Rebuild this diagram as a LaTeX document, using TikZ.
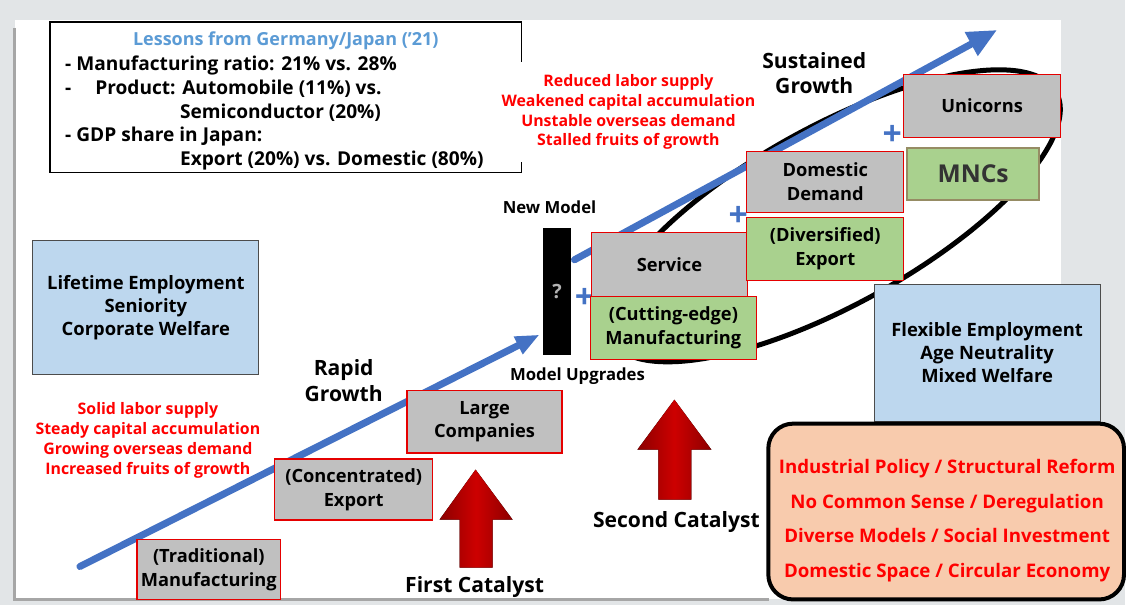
\documentclass[tikz,border=0pt]{standalone}
\usepackage{fontspec}
\setmainfont{Open Sans}
\usetikzlibrary{arrows.meta,positioning,calc}
\definecolor{growthblue}{RGB}{68,114,196}
\definecolor{titleblue}{RGB}{91,155,213}
\definecolor{stagegray}{RGB}{192,192,192}
\definecolor{stagegreen}{RGB}{169,209,142}
\definecolor{mncborder}{RGB}{150,140,100}
\definecolor{paleblue}{RGB}{189,215,238}
\definecolor{peach}{RGB}{248,203,173}
\definecolor{catred}{RGB}{205,0,0}
\definecolor{catdark}{RGB}{140,0,0}
\definecolor{bggray}{RGB}{226,229,231}
\newdimen\px \px=0.025cm

\begin{document}
\begin{tikzpicture}[x=1\px,y=-1\px,
    stage/.style={draw=red!90!black,line width=1.3\px,fill=stagegray,align=center,inner sep=0pt,
      font=\bfseries\fontsize{13}{17}\selectfont},
    newer/.style={stage,fill=stagegreen},
    regime/.style={draw=black!70,line width=1\px,fill=paleblue,align=center,inner sep=0pt,
      font=\bfseries\fontsize{13.1}{16.3}\selectfont},
    redtext/.style={text=red,align=center,font=\bfseries\fontsize{11.3}{14.2}\selectfont},
    phase/.style={align=center,font=\bfseries\fontsize{15}{18}\selectfont},
    small/.style={font=\bfseries\fontsize{11.9}{13}\selectfont},
    growth/.style={growthblue,line width=7\px,line cap=round},
    plus/.style={text=growthblue,inner sep=0pt,font=\bfseries\fontsize{24}{24}\selectfont},
    catalyst/.style={left color=catdark,right color=catdark,middle color=catred}]
  % background
  \fill[bggray] (0,0) rectangle (1126,606);
  \fill[white] (15,20) rectangle (1062,600);
  \draw[gray!70,line width=3\px] (15,28) -- (15,600) -- (770,600);
  % lessons box
  \draw[line width=1.2\px] (50,22) rectangle (522,173);
  \node[text=titleblue,font=\bfseries\fontsize{12.8}{16.8}\selectfont] (title) at (286,41) {Lessons from Germany/Japan (’21)};
  \node[anchor=north west,align=left,inner sep=0pt,font=\bfseries\fontsize{13.6}{16.8}\selectfont] (lessons) at (65,56)
    {- Manufacturing ratio: 21\% vs. 28\%\\
     -\hspace*{24\px}Product: Automobile (11\%) vs.\\
     \hspace*{115\px}Semiconductor (20\%)\\
     - GDP share in Japan:\\
     \hspace*{115\px}Export (20\%) vs. Domestic (80\%)};
  \node[redtext,fill=white,inner xsep=8\px,inner ysep=12\px] (slowdown) at (629,112)
    {Reduced labor supply\\Weakened capital accumulation\\Unstable overseas demand\\Stalled fruits of growth};
  % new model circle and growth arrows
  \draw[line width=5\px] plot[domain=0:356,samples=90,smooth cycle,variable=\t]
    ({834+255*cos(\t)*0.875+89*sin(\t)*0.485},{216-255*cos(\t)*0.485+89*sin(\t)*0.875});
  \coordinate (start) at (80,567);
  \coordinate (oldend) at (540,335);
  \coordinate (restart) at (575,260);
  \coordinate (top) at (998,30);
  \draw[growth,-{Triangle[length=17pt,width=13pt]}] (start) -- (oldend);
  \draw[growth,-{Triangle[length=21pt,width=18pt]}] (restart) -- (top);
  \node[phase,fill=white,inner sep=1\px] (sustained) at (815,73) {Sustained\\Growth};
  \node[phase,fill=white,inner sep=1\px] (rapid) at (344,381) {Rapid\\Growth};
  % regimes
  \node[regime,minimum width=226\px,minimum height=134\px] (lifetime) at (146,308)
    {Lifetime Employment\\Seniority\\Corporate Welfare};
  \node[regime,minimum width=226\px,minimum height=137\px] (flexible) at (988,353)
    {Flexible Employment\\Age Neutrality\\Mixed Welfare};
  \node[redtext] (boom) at (148,441)
    {Solid labor supply\\Steady capital accumulation\\Growing overseas demand\\Increased fruits of growth};
  % stages
  \node[stage,minimum width=144\px,minimum height=60\px] (trad) at (209,570) {(Traditional)\\Manufacturing};
  \node[stage,minimum width=158\px,minimum height=61\px] (conc) at (354,490) {(Concentrated)\\Export};
  \node[stage,minimum width=155\px,minimum height=63\px] (large) at (485,422) {Large\\Companies};
  \node[plus] (plus1) at (585,299) {+};
  \node[plus] (plus2) at (739,217) {+};
  \node[plus] (plus3) at (893,136) {+};
  \node[stage,minimum width=156\px,minimum height=64\px] (service) at (670,265) {Service};
  \node[newer,minimum width=166\px,minimum height=63\px] (cutting) at (674,328) {(Cutting-edge)\\Manufacturing};
  \node[stage,minimum width=157\px,minimum height=61\px] (domestic) at (826,182) {Domestic\\Demand};
  \node[newer,minimum width=157\px,minimum height=63\px] (diverse) at (826,249) {(Diversified)\\Export};
  \node[stage,minimum width=157\px,minimum height=63\px] (unicorns) at (983,106) {Unicorns};
  \node[newer,draw=mncborder,line width=2\px,minimum width=132\px,minimum height=52\px,text=black!80,
    font=\bfseries\fontsize{17.5}{20}\selectfont] (mncs) at (974,174) {MNCs};
  % new model bar
  \node[fill=black,minimum width=29\px,minimum height=127\px,inner sep=0pt,text=gray!60,
    font=\bfseries\fontsize{14}{14}\selectfont] (bar) at (557.5,291.5) {?};
  \node[small] (newmodel) at (550,207) {New Model};
  \node[small] (upgrades) at (578,376) {Model Upgrades};
  % catalysts
  \fill[catalyst] (476,470) -- (513,520) -- (493,520) -- (493,568) -- (460,568) -- (460,520) -- (440,520) -- cycle;
  \fill[catalyst] (675,400) -- (712,450) -- (692,450) -- (692,500) -- (659,500) -- (659,450) -- (638,450) -- cycle;
  \node[phase] (first) at (475,588) {First Catalyst};
  \node[phase] (second) at (677,522) {Second Catalyst};
  % policy box
  \node[draw=black,line width=4\px,fill=peach,rounded corners=17.7pt,minimum width=356\px,minimum height=176\px,
    inner sep=0pt] (policy) at (947,512) {};
  \node[text=red,align=center,font=\bfseries\fontsize{13.3}{24.8}\selectfont] (policytext) at (948,521)
    {Industrial Policy / Structural Reform\\No Common Sense / Deregulation\\Diverse Models / Social Investment\\Domestic Space / Circular Economy};
\end{tikzpicture}
\end{document}
